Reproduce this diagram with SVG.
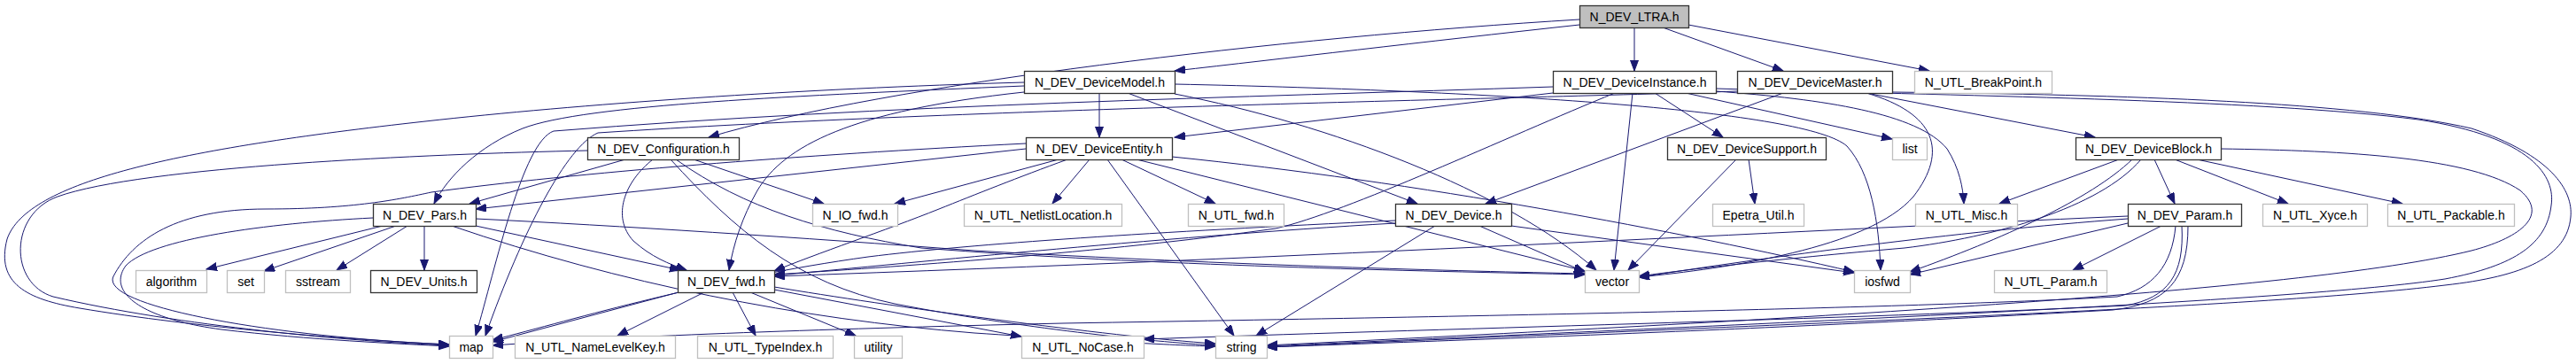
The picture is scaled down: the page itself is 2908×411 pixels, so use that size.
<svg xmlns="http://www.w3.org/2000/svg" width="2908" height="411" viewBox="0 0 2908 411">
<style>
text{font-family:"Liberation Sans",Arial,Helvetica,sans-serif;font-size:14px;text-anchor:middle;fill:#000}
.n rect{fill:#fff;stroke:#333;stroke-width:1.3}
.g rect{fill:#fff;stroke:#bfbfbf;stroke-width:1.3}
.r rect{fill:#bfbfbf;stroke:#333;stroke-width:1.3}
#edges path{fill:none;stroke:#191970;stroke-width:1;marker-end:url(#ah)}
</style>
<defs>
<marker id="ah" markerUnits="userSpaceOnUse" markerWidth="13" markerHeight="10" refX="12" refY="4.5" orient="auto">
<path d="M0,0 L12,4.5 L0,9 z" fill="#191970" stroke="#191970" stroke-width="1"/>
</marker>
</defs>
<rect width="2908" height="411" fill="#fff"/>
<g id="edges">
<path d="M1783,28 C1600,48 1450,66 1326,80"/>
<path d="M1783,22 C1450,42 1000,95 800,155"/>
<path d="M1845,31 L1845,80"/>
<path d="M1877,31 L2013,80"/>
<path d="M1906,28 L2178,80"/>
<path d="M1241,105 L1241,155"/>
<path d="M1156,93 C900,100 650,118 480,137 C200,168 30,205 8,270 C-5,320 30,338 90,348 C220,370 400,384 507,389"/>
<path d="M1156,97 C900,108 660,118 590,145 C540,165 505,200 490,230"/>
<path d="M1156,104 C960,125 885,165 855,215 C838,245 828,275 823,305"/>
<path d="M1273,105 L1600,230"/>
<path d="M1326,106 C1500,140 1700,215 1802,305"/>
<path d="M1326,95 C1700,103 2040,125 2085,165 C2112,195 2121,250 2123,305"/>
<path d="M1753,105 L1326,155"/>
<path d="M1868,105 L1945,155"/>
<path d="M1903,105 L2136,157"/>
<path d="M1843,105 L1822,305"/>
<path d="M1823,105 C1700,155 1520,240 1440,258 C1250,285 1000,302 874,310"/>
<path d="M1937,103 C2060,112 2165,128 2198,168 C2212,190 2216,212 2217,230"/>
<path d="M1937,100 C2200,108 2550,112 2730,135 C2860,155 2885,200 2880,232 C2875,275 2840,300 2760,315 C2600,340 2000,365 1430,391"/>
<path d="M1753,98 C1400,110 1000,118 625,148 C590,160 560,300 537,379"/>
<path d="M2013,105 L1677,230"/>
<path d="M2107,105 L2365,155"/>
<path d="M2107,105 C2185,128 2200,170 2160,222 C2110,280 1950,303 1850,313"/>
<path d="M2136,104 C2400,107 2660,115 2790,145 C2880,175 2905,215 2902,245 C2898,290 2850,312 2760,322 C2550,348 2000,366 1430,392"/>
<path d="M1961,103 C1700,112 1100,122 675,150 C640,165 590,260 548,379"/>
<path d="M663,170 C480,174 160,188 65,222 C10,242 10,320 60,335 C200,368 400,386 507,390"/>
<path d="M706,180 L530,230"/>
<path d="M737,180 C705,205 690,245 715,272 C735,290 755,298 775,305"/>
<path d="M783,180 L930,230"/>
<path d="M763,180 C840,235 930,262 1040,280 C1300,300 1600,306 1789,310"/>
<path d="M757,180 C830,260 900,320 1010,343 C1150,370 1300,386 1372,390"/>
<path d="M1158,162 C900,175 650,195 487,217 C450,225 400,236 300,236 C200,236 150,270 128,312 C112,345 300,380 507,389"/>
<path d="M1158,168 L537,236"/>
<path d="M1195,180 L1010,230"/>
<path d="M1230,180 L1188,230"/>
<path d="M1266,180 L1372,230"/>
<path d="M1250,180 L1393,379"/>
<path d="M1205,180 C1150,200 1100,220 1060,236 C1000,260 920,287 874,306"/>
<path d="M1283,180 L1789,306"/>
<path d="M1323,177 C1600,205 1900,262 2093,307"/>
<path d="M1974,180 L1981,230"/>
<path d="M1960,180 L1838,305"/>
<path d="M2392,180 L2257,230"/>
<path d="M2432,180 L2455,230"/>
<path d="M2455,180 L2583,230"/>
<path d="M2480,180 L2712,230"/>
<path d="M2407,180 C2360,225 2260,270 2156,307"/>
<path d="M2417,180 C2370,235 2250,268 2150,280 C2000,293 1900,305 1850,312"/>
<path d="M2507,168 C2650,170 2790,178 2845,215 C2880,245 2840,270 2790,283 C2600,330 2000,362 1430,390"/>
<path d="M2440,255 L2340,305"/>
<path d="M2402,247 C2200,262 2000,290 1850,313"/>
<path d="M2402,252 L2156,310"/>
<path d="M2402,244 C2000,262 1500,290 874,312"/>
<path d="M2456,255 C2452,300 2430,326 2390,335 C2200,346 1800,355 1200,365 C900,372 700,380 556,390"/>
<path d="M2463,255 C2466,310 2448,336 2400,345 C2100,360 1600,372 1291,383"/>
<path d="M2470,255 C2470,318 2445,343 2385,350 C2000,372 1600,386 1430,392"/>
<path d="M421,246 C300,252 170,270 142,300 C120,330 160,360 250,372 C350,384 450,388 507,391"/>
<path d="M432,255 L233,304"/>
<path d="M447,255 L298,306"/>
<path d="M460,255 L380,305"/>
<path d="M479,255 L479,305"/>
<path d="M537,255 L768,305"/>
<path d="M537,247 C700,255 900,268 1100,283 C1400,300 1650,306 1789,309"/>
<path d="M510,255 C700,320 900,360 1100,376 C1250,386 1330,390 1372,391"/>
<path d="M1575,252 C1300,268 1000,300 874,311"/>
<path d="M1575,249 C1300,262 1100,275 980,290 C800,315 650,360 556,384"/>
<path d="M1670,255 L1789,307"/>
<path d="M1706,255 L2093,308"/>
<path d="M1620,255 L1418,379"/>
<path d="M766,330 L556,386"/>
<path d="M795,330 L697,379"/>
<path d="M827,330 L853,379"/>
<path d="M847,330 L966,379"/>
<path d="M874,327 L1153,380"/>
<path d="M874,324 C1000,345 1250,380 1372,388"/>
</g>
<g id="n_ltra" class="r"><rect x="1783.5" y="6.5" width="123" height="25"/><text x="1845" y="24">N_DEV_LTRA.h</text></g>
<g id="n_instance" class="n"><rect x="1753.5" y="80.5" width="184" height="25"/><text x="1845.5" y="98">N_DEV_DeviceInstance.h</text></g>
<g id="n_master" class="n"><rect x="1961.5" y="80.5" width="175" height="25"/><text x="2049" y="98">N_DEV_DeviceMaster.h</text></g>
<g id="n_breakpoint" class="g"><rect x="2161.5" y="80.5" width="155" height="25"/><text x="2239" y="98">N_UTL_BreakPoint.h</text></g>
<g id="n_model" class="n"><rect x="1156.5" y="80.5" width="170" height="25"/><text x="1241.5" y="98">N_DEV_DeviceModel.h</text></g>
<g id="n_config" class="n"><rect x="663.5" y="155.5" width="171" height="25"/><text x="749" y="173">N_DEV_Configuration.h</text></g>
<g id="n_entity" class="n"><rect x="1158.5" y="155.5" width="165" height="25"/><text x="1241" y="173">N_DEV_DeviceEntity.h</text></g>
<g id="n_support" class="n"><rect x="1882.5" y="155.5" width="179" height="25"/><text x="1972" y="173">N_DEV_DeviceSupport.h</text></g>
<g id="n_list" class="g"><rect x="2136.5" y="155.5" width="39" height="25"/><text x="2156" y="173">list</text></g>
<g id="n_block" class="n"><rect x="2343.5" y="155.5" width="164" height="25"/><text x="2425.5" y="173">N_DEV_DeviceBlock.h</text></g>
<g id="n_pars" class="n"><rect x="421.5" y="230.5" width="116" height="25"/><text x="479.5" y="248">N_DEV_Pars.h</text></g>
<g id="n_iofwd" class="g"><rect x="917.5" y="230.5" width="96" height="25"/><text x="965.5" y="248">N_IO_fwd.h</text></g>
<g id="n_netlist" class="g"><rect x="1088.5" y="230.5" width="178" height="25"/><text x="1177.5" y="248">N_UTL_NetlistLocation.h</text></g>
<g id="n_utlfwd" class="g"><rect x="1341.5" y="230.5" width="108" height="25"/><text x="1395.5" y="248">N_UTL_fwd.h</text></g>
<g id="n_device" class="n"><rect x="1575.5" y="230.5" width="131" height="25"/><text x="1641" y="248">N_DEV_Device.h</text></g>
<g id="n_epetra" class="g"><rect x="1933.5" y="230.5" width="103" height="25"/><text x="1985" y="248">Epetra_Util.h</text></g>
<g id="n_misc" class="g"><rect x="2162.5" y="230.5" width="115" height="25"/><text x="2220" y="248">N_UTL_Misc.h</text></g>
<g id="n_param" class="n"><rect x="2402.5" y="230.5" width="128" height="25"/><text x="2466.5" y="248">N_DEV_Param.h</text></g>
<g id="n_xyce" class="g"><rect x="2554.5" y="230.5" width="118" height="25"/><text x="2613.5" y="248">N_UTL_Xyce.h</text></g>
<g id="n_packable" class="g"><rect x="2695.5" y="230.5" width="143" height="25"/><text x="2767" y="248">N_UTL_Packable.h</text></g>
<g id="n_algorithm" class="g"><rect x="153.5" y="305.5" width="80" height="25"/><text x="193.5" y="323">algorithm</text></g>
<g id="n_set" class="g"><rect x="256.5" y="305.5" width="42" height="25"/><text x="277.5" y="323">set</text></g>
<g id="n_sstream" class="g"><rect x="322.5" y="305.5" width="73" height="25"/><text x="359" y="323">sstream</text></g>
<g id="n_units" class="n"><rect x="418.5" y="305.5" width="120" height="25"/><text x="478.5" y="323">N_DEV_Units.h</text></g>
<g id="n_devfwd" class="n"><rect x="765.5" y="305.5" width="109" height="25"/><text x="820" y="323">N_DEV_fwd.h</text></g>
<g id="n_vector" class="g"><rect x="1789.5" y="305.5" width="61" height="25"/><text x="1820" y="323">vector</text></g>
<g id="n_iosfwd" class="g"><rect x="2093.5" y="305.5" width="63" height="25"/><text x="2125" y="323">iosfwd</text></g>
<g id="n_utlparam" class="g"><rect x="2251.5" y="305.5" width="127" height="25"/><text x="2315" y="323">N_UTL_Param.h</text></g>
<g id="n_map" class="g"><rect x="507.5" y="379.5" width="49" height="25"/><text x="532" y="397">map</text></g>
<g id="n_namelevelkey" class="g"><rect x="581.5" y="379.5" width="181" height="25"/><text x="672" y="397">N_UTL_NameLevelKey.h</text></g>
<g id="n_typeindex" class="g"><rect x="787.5" y="379.5" width="153" height="25"/><text x="864" y="397">N_UTL_TypeIndex.h</text></g>
<g id="n_utility" class="g"><rect x="964.5" y="379.5" width="54" height="25"/><text x="991.5" y="397">utility</text></g>
<g id="n_nocase" class="g"><rect x="1153.5" y="379.5" width="138" height="25"/><text x="1222.5" y="397">N_UTL_NoCase.h</text></g>
<g id="n_string" class="g"><rect x="1372.5" y="379.5" width="58" height="25"/><text x="1401.5" y="397">string</text></g>
</svg>
